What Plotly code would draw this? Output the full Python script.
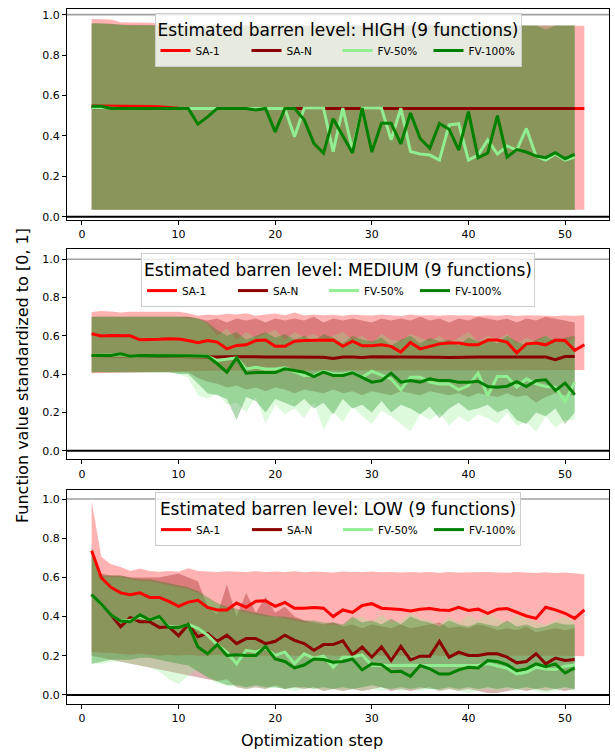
import plotly.graph_objects as go
from plotly.subplots import make_subplots

SERIES = ["SA-1", "SA-N", "FV-50%", "FV-100%"]
LINE_COLORS = {"SA-1": "#ff0000", "SA-N": "#8b0000", "FV-50%": "#90ee90", "FV-100%": "#008000"}
FILL_COLORS = {"SA-1": "rgba(255,0,0,0.3)", "SA-N": "rgba(139,0,0,0.3)",
               "FV-50%": "rgba(144,238,144,0.3)", "FV-100%": "rgba(0,128,0,0.3)"}
LEVELS = ["HIGH", "MEDIUM", "LOW"]
X_TICKS = [0, 10, 20, 30, 40, 50]
Y_TICKS = [0.0, 0.2, 0.4, 0.6, 0.8, 1.0]

STEPS_SA1 = list(range(1, 53))
STEPS_OTHER = list(range(1, 52))

# ---------------- HIGH ----------------
H_SA1 = [0.548, 0.548, 0.547, 0.546, 0.546, 0.545, 0.545, 0.544, 0.540, 0.537,
         0.536, 0.536, 0.536, 0.536, 0.536, 0.536, 0.536, 0.536, 0.536, 0.536,
         0.536, 0.536, 0.536, 0.536, 0.536, 0.536, 0.536, 0.536, 0.536, 0.536,
         0.536, 0.536, 0.536, 0.536, 0.536, 0.536, 0.536, 0.536, 0.536, 0.536,
         0.536, 0.536, 0.536, 0.536, 0.536, 0.536, 0.536, 0.536, 0.536, 0.536,
         0.536, 0.536]
H_SA1_LO = [0.034, 0.034, 0.034, 0.035, 0.035, 0.035, 0.034, 0.034, 0.034, 0.034,
            0.034, 0.034, 0.034, 0.034, 0.034, 0.034, 0.034, 0.034, 0.034, 0.034,
            0.034, 0.034, 0.034, 0.034, 0.034, 0.034, 0.034, 0.034, 0.034, 0.034,
            0.034, 0.034, 0.034, 0.034, 0.034, 0.034, 0.034, 0.034, 0.034, 0.034,
            0.034, 0.034, 0.034, 0.034, 0.034, 0.034, 0.034, 0.034, 0.034, 0.034,
            0.034, 0.034]
H_SA1_HI = [0.978, 0.978, 0.976, 0.962, 0.961, 0.962, 0.960, 0.956, 0.952, 0.950,
            0.948, 0.947, 0.947, 0.946, 0.946, 0.946, 0.946, 0.946, 0.946, 0.946,
            0.946, 0.946, 0.946, 0.946, 0.946, 0.946, 0.946, 0.946, 0.946, 0.946,
            0.946, 0.946, 0.946, 0.946, 0.946, 0.946, 0.946, 0.946, 0.946, 0.946,
            0.946, 0.946, 0.946, 0.946, 0.946, 0.946, 0.946, 0.946, 0.946, 0.946,
            0.945, 0.945]
H_SAN = [0.540, 0.540, 0.537, 0.536, 0.536, 0.536, 0.536, 0.536, 0.536, 0.536,
         0.536, 0.536, 0.536, 0.536, 0.536, 0.536, 0.536, 0.536, 0.536, 0.536,
         0.536, 0.536, 0.536, 0.536, 0.536, 0.536, 0.536, 0.536, 0.536, 0.536,
         0.536, 0.536, 0.536, 0.536, 0.536, 0.536, 0.536, 0.536, 0.536, 0.536,
         0.536, 0.536, 0.536, 0.536, 0.536, 0.536, 0.536, 0.536, 0.536, 0.536,
         0.536]
H_SAN_LO = [0.034, 0.034, 0.034, 0.034, 0.034, 0.034, 0.034, 0.034, 0.034, 0.034,
            0.034, 0.034, 0.034, 0.034, 0.034, 0.034, 0.034, 0.034, 0.034, 0.034,
            0.034, 0.034, 0.034, 0.034, 0.034, 0.034, 0.034, 0.034, 0.034, 0.034,
            0.034, 0.034, 0.034, 0.034, 0.034, 0.034, 0.034, 0.034, 0.034, 0.034,
            0.034, 0.034, 0.034, 0.034, 0.034, 0.034, 0.034, 0.034, 0.034, 0.034,
            0.034]
H_SAN_HI = [0.958, 0.958, 0.955, 0.950, 0.950, 0.949, 0.948, 0.947, 0.947, 0.946,
            0.946, 0.946, 0.946, 0.946, 0.946, 0.946, 0.946, 0.946, 0.946, 0.946,
            0.946, 0.946, 0.946, 0.946, 0.946, 0.946, 0.946, 0.946, 0.946, 0.946,
            0.946, 0.946, 0.946, 0.946, 0.946, 0.946, 0.946, 0.946, 0.946, 0.946,
            0.946, 0.946, 0.946, 0.946, 0.946, 0.946, 0.946, 0.946, 0.946, 0.946,
            0.946]
H_FV50 = [0.540, 0.540, 0.537, 0.536, 0.536, 0.536, 0.536, 0.536, 0.536, 0.536,
          0.536, 0.536, 0.536, 0.536, 0.536, 0.536, 0.536, 0.536, 0.536, 0.536,
          0.536, 0.396, 0.537, 0.537, 0.537, 0.322, 0.537, 0.330, 0.537, 0.537,
          0.537, 0.380, 0.537, 0.322, 0.310, 0.305, 0.280, 0.454, 0.460, 0.280,
          0.305, 0.380, 0.310, 0.350, 0.330, 0.437, 0.300, 0.280, 0.310, 0.280,
          0.295]
H_FV50_LO = [0.034, 0.034, 0.034, 0.034, 0.034, 0.034, 0.034, 0.034, 0.034, 0.034,
             0.034, 0.034, 0.034, 0.034, 0.034, 0.034, 0.034, 0.034, 0.034, 0.034,
             0.034, 0.034, 0.034, 0.034, 0.034, 0.034, 0.034, 0.034, 0.034, 0.034,
             0.034, 0.034, 0.034, 0.034, 0.034, 0.034, 0.034, 0.034, 0.034, 0.034,
             0.034, 0.034, 0.034, 0.034, 0.034, 0.034, 0.034, 0.034, 0.034, 0.034,
             0.034]
H_FV50_HI = [0.956, 0.956, 0.952, 0.948, 0.947, 0.947, 0.946, 0.946, 0.946, 0.946,
             0.946, 0.946, 0.946, 0.946, 0.946, 0.946, 0.946, 0.946, 0.946, 0.946,
             0.946, 0.946, 0.946, 0.946, 0.946, 0.946, 0.946, 0.946, 0.946, 0.946,
             0.946, 0.946, 0.946, 0.946, 0.946, 0.946, 0.946, 0.946, 0.946, 0.946,
             0.946, 0.946, 0.946, 0.946, 0.946, 0.946, 0.946, 0.946, 0.946, 0.946,
             0.946]
H_FV100 = [0.547, 0.547, 0.536, 0.536, 0.536, 0.536, 0.536, 0.536, 0.536, 0.536,
           0.536, 0.458, 0.494, 0.536, 0.536, 0.536, 0.536, 0.528, 0.536, 0.420,
           0.536, 0.536, 0.480, 0.363, 0.315, 0.485, 0.400, 0.315, 0.538, 0.320,
           0.462, 0.462, 0.360, 0.513, 0.387, 0.338, 0.462, 0.433, 0.330, 0.520,
           0.292, 0.315, 0.500, 0.295, 0.332, 0.320, 0.300, 0.292, 0.317, 0.287,
           0.308]
H_FV100_LO = [0.034, 0.034, 0.034, 0.034, 0.034, 0.034, 0.034, 0.034, 0.034, 0.034,
              0.034, 0.034, 0.034, 0.034, 0.034, 0.034, 0.034, 0.034, 0.034, 0.034,
              0.034, 0.034, 0.034, 0.034, 0.034, 0.034, 0.034, 0.034, 0.034, 0.034,
              0.034, 0.034, 0.034, 0.034, 0.034, 0.034, 0.034, 0.034, 0.034, 0.034,
              0.034, 0.034, 0.034, 0.034, 0.034, 0.034, 0.034, 0.034, 0.034, 0.034,
              0.034]
H_FV100_HI = [0.956, 0.956, 0.952, 0.948, 0.947, 0.947, 0.946, 0.946, 0.946, 0.946,
              0.946, 0.946, 0.946, 0.946, 0.946, 0.946, 0.946, 0.946, 0.946, 0.946,
              0.946, 0.946, 0.946, 0.946, 0.946, 0.946, 0.946, 0.946, 0.946, 0.946,
              0.946, 0.946, 0.946, 0.946, 0.946, 0.946, 0.946, 0.946, 0.946, 0.946,
              0.946, 0.946, 0.946, 0.946, 0.946, 0.946, 0.946, 0.925, 0.946, 0.946,
              0.946]

# ---------------- MEDIUM ----------------
M_SA1 = [0.611, 0.599, 0.602, 0.602, 0.600, 0.579, 0.579, 0.582, 0.585, 0.583,
         0.576, 0.564, 0.576, 0.567, 0.532, 0.550, 0.553, 0.576, 0.578, 0.545,
         0.545, 0.572, 0.576, 0.576, 0.576, 0.578, 0.545, 0.572, 0.548, 0.548,
         0.553, 0.545, 0.515, 0.565, 0.532, 0.545, 0.558, 0.562, 0.562, 0.553,
         0.553, 0.578, 0.578, 0.567, 0.511, 0.558, 0.562, 0.553, 0.578, 0.576,
         0.524, 0.553]
M_SA1_LO = [0.405, 0.405, 0.407, 0.408, 0.409, 0.410, 0.411, 0.412, 0.413, 0.414,
            0.415, 0.416, 0.417, 0.418, 0.418, 0.419, 0.419, 0.420, 0.420, 0.420,
            0.420, 0.420, 0.420, 0.421, 0.421, 0.421, 0.421, 0.421, 0.421, 0.421,
            0.421, 0.421, 0.421, 0.421, 0.421, 0.421, 0.421, 0.421, 0.421, 0.421,
            0.421, 0.421, 0.421, 0.421, 0.421, 0.421, 0.421, 0.421, 0.421, 0.421,
            0.421, 0.421]
M_SA1_HI = [0.725, 0.730, 0.727, 0.722, 0.726, 0.726, 0.724, 0.725, 0.723, 0.726,
            0.718, 0.705, 0.712, 0.708, 0.715, 0.712, 0.718, 0.705, 0.712, 0.716,
            0.708, 0.722, 0.706, 0.712, 0.708, 0.710, 0.705, 0.712, 0.708, 0.706,
            0.712, 0.708, 0.703, 0.712, 0.706, 0.708, 0.705, 0.709, 0.706, 0.708,
            0.704, 0.707, 0.705, 0.709, 0.704, 0.708, 0.706, 0.707, 0.704, 0.706,
            0.705, 0.708]
M_SAN = [0.497, 0.497, 0.497, 0.497, 0.495, 0.495, 0.494, 0.493, 0.492, 0.492,
         0.492, 0.491, 0.490, 0.490, 0.491, 0.490, 0.490, 0.489, 0.490, 0.490,
         0.490, 0.489, 0.490, 0.490, 0.488, 0.482, 0.489, 0.490, 0.487, 0.491,
         0.491, 0.490, 0.490, 0.489, 0.490, 0.491, 0.488, 0.487, 0.489, 0.488,
         0.490, 0.489, 0.490, 0.488, 0.490, 0.489, 0.490, 0.489, 0.475, 0.492,
         0.492]
M_SAN_LO = [0.410, 0.410, 0.410, 0.410, 0.410, 0.410, 0.410, 0.410, 0.410, 0.410,
            0.410, 0.380, 0.360, 0.350, 0.330, 0.340, 0.320, 0.330, 0.310, 0.330,
            0.320, 0.300, 0.320, 0.310, 0.300, 0.320, 0.300, 0.310, 0.290, 0.310,
            0.300, 0.290, 0.310, 0.300, 0.290, 0.310, 0.300, 0.290, 0.300, 0.280,
            0.300, 0.290, 0.280, 0.300, 0.280, 0.290, 0.250, 0.280, 0.300, 0.290,
            0.290]
M_SAN_HI = [0.700, 0.700, 0.700, 0.700, 0.700, 0.700, 0.700, 0.700, 0.700, 0.700,
            0.700, 0.690, 0.680, 0.690, 0.670, 0.690, 0.680, 0.690, 0.670, 0.690,
            0.680, 0.690, 0.680, 0.700, 0.670, 0.690, 0.680, 0.690, 0.680, 0.670,
            0.690, 0.680, 0.690, 0.680, 0.700, 0.680, 0.690, 0.670, 0.690, 0.680,
            0.700, 0.690, 0.680, 0.690, 0.670, 0.690, 0.680, 0.700, 0.690, 0.680,
            0.670]
M_FV50 = [0.497, 0.497, 0.497, 0.500, 0.495, 0.497, 0.496, 0.496, 0.496, 0.496,
          0.496, 0.495, 0.493, 0.471, 0.480, 0.485, 0.427, 0.436, 0.427, 0.427,
          0.433, 0.415, 0.393, 0.393, 0.415, 0.401, 0.401, 0.410, 0.384, 0.415,
          0.393, 0.375, 0.318, 0.384, 0.384, 0.358, 0.349, 0.349, 0.318, 0.340,
          0.405, 0.288, 0.387, 0.387, 0.332, 0.375, 0.349, 0.335, 0.332, 0.257,
          0.358]
M_FV50_LO = [0.410, 0.410, 0.410, 0.410, 0.410, 0.410, 0.410, 0.410, 0.410, 0.400,
             0.380, 0.290, 0.270, 0.300, 0.240, 0.250, 0.200, 0.280, 0.140, 0.240,
             0.190, 0.220, 0.170, 0.250, 0.110, 0.200, 0.150, 0.230, 0.180, 0.140,
             0.210, 0.180, 0.140, 0.100, 0.190, 0.160, 0.200, 0.130, 0.180, 0.150,
             0.190, 0.170, 0.140, 0.200, 0.130, 0.150, 0.100, 0.180, 0.120, 0.160,
             0.160]
M_FV50_HI = [0.700, 0.700, 0.700, 0.700, 0.700, 0.700, 0.700, 0.700, 0.700, 0.700,
             0.690, 0.690, 0.660, 0.600, 0.640, 0.580, 0.620, 0.590, 0.610, 0.630,
             0.580, 0.620, 0.590, 0.610, 0.570, 0.600, 0.620, 0.580, 0.600, 0.560,
             0.610, 0.580, 0.570, 0.610, 0.590, 0.570, 0.600, 0.560, 0.590, 0.620,
             0.570, 0.600, 0.580, 0.610, 0.560, 0.590, 0.570, 0.600, 0.580, 0.560,
             0.590]
M_FV100 = [0.497, 0.497, 0.497, 0.506, 0.493, 0.497, 0.496, 0.496, 0.496, 0.496,
           0.496, 0.495, 0.493, 0.454, 0.410, 0.485, 0.405, 0.408, 0.408, 0.408,
           0.428, 0.419, 0.410, 0.387, 0.410, 0.393, 0.393, 0.407, 0.384, 0.358,
           0.366, 0.405, 0.358, 0.366, 0.358, 0.375, 0.366, 0.366, 0.358, 0.358,
           0.363, 0.335, 0.332, 0.337, 0.361, 0.335, 0.366, 0.370, 0.314, 0.353,
           0.293]
M_FV100_LO = [0.410, 0.410, 0.410, 0.410, 0.410, 0.410, 0.410, 0.410, 0.410, 0.400,
              0.400, 0.350, 0.300, 0.290, 0.270, 0.160, 0.280, 0.260, 0.200, 0.270,
              0.250, 0.230, 0.270, 0.220, 0.250, 0.190, 0.270, 0.220, 0.240, 0.200,
              0.260, 0.200, 0.240, 0.220, 0.190, 0.230, 0.170, 0.220, 0.250, 0.210,
              0.220, 0.240, 0.200, 0.220, 0.160, 0.140, 0.200, 0.180, 0.220, 0.140,
              0.200]
M_FV100_HI = [0.700, 0.700, 0.700, 0.700, 0.700, 0.700, 0.700, 0.700, 0.700, 0.700,
              0.700, 0.690, 0.670, 0.630, 0.600, 0.620, 0.580, 0.600, 0.620, 0.590,
              0.610, 0.580, 0.600, 0.570, 0.610, 0.590, 0.560, 0.600, 0.580, 0.570,
              0.590, 0.550, 0.580, 0.600, 0.560, 0.590, 0.570, 0.580, 0.550, 0.590,
              0.570, 0.580, 0.560, 0.600, 0.570, 0.550, 0.580, 0.600, 0.570, 0.590,
              0.600]

# ---------------- LOW ----------------
L_SA1 = [0.736, 0.598, 0.550, 0.521, 0.512, 0.521, 0.498, 0.498, 0.478, 0.452,
         0.474, 0.483, 0.447, 0.434, 0.434, 0.469, 0.447, 0.478, 0.481, 0.452,
         0.472, 0.443, 0.443, 0.447, 0.443, 0.400, 0.434, 0.421, 0.457, 0.466,
         0.443, 0.440, 0.436, 0.429, 0.438, 0.441, 0.434, 0.431, 0.447, 0.431,
         0.438, 0.417, 0.438, 0.441, 0.421, 0.403, 0.391, 0.448, 0.434, 0.417,
         0.391, 0.434]
L_SA1_LO = [0.220, 0.215, 0.215, 0.210, 0.205, 0.210, 0.205, 0.200, 0.205, 0.200,
            0.205, 0.200, 0.200, 0.205, 0.200, 0.200, 0.205, 0.200, 0.200, 0.200,
            0.205, 0.200, 0.200, 0.200, 0.205, 0.200, 0.200, 0.200, 0.200, 0.205,
            0.200, 0.200, 0.200, 0.200, 0.200, 0.205, 0.200, 0.200, 0.200, 0.200,
            0.200, 0.200, 0.200, 0.200, 0.200, 0.200, 0.200, 0.200, 0.200, 0.200,
            0.200, 0.198]
L_SA1_HI = [0.990, 0.705, 0.667, 0.653, 0.633, 0.645, 0.633, 0.629, 0.633, 0.629,
            0.647, 0.633, 0.630, 0.628, 0.632, 0.630, 0.627, 0.632, 0.628, 0.630,
            0.627, 0.632, 0.626, 0.630, 0.628, 0.625, 0.630, 0.627, 0.628, 0.630,
            0.626, 0.628, 0.625, 0.627, 0.625, 0.628, 0.624, 0.627, 0.625, 0.626,
            0.624, 0.627, 0.625, 0.624, 0.627, 0.624, 0.623, 0.626, 0.623, 0.625,
            0.622, 0.616]
L_SAN = [0.512, 0.460, 0.409, 0.348, 0.395, 0.374, 0.374, 0.345, 0.348, 0.302,
         0.360, 0.297, 0.314, 0.274, 0.305, 0.262, 0.288, 0.288, 0.262, 0.274,
         0.305, 0.279, 0.262, 0.228, 0.257, 0.257, 0.276, 0.205, 0.245, 0.193,
         0.245, 0.176, 0.248, 0.179, 0.198, 0.198, 0.274, 0.193, 0.219, 0.202,
         0.202, 0.210, 0.210, 0.193, 0.164, 0.171, 0.210, 0.159, 0.188, 0.176,
         0.181]
L_SAN_LO = [0.200, 0.190, 0.180, 0.170, 0.160, 0.150, 0.140, 0.130, 0.120, 0.110,
            0.100, 0.090, 0.080, 0.070, 0.080, 0.040, 0.030, 0.040, 0.030, 0.050,
            0.030, 0.040, 0.030, 0.040, 0.020, 0.030, 0.020, 0.030, 0.020, 0.030,
            0.040, 0.020, 0.030, 0.020, 0.030, 0.040, 0.020, 0.030, 0.020, 0.030,
            0.020, 0.010, 0.010, 0.020, 0.030, 0.020, 0.030, 0.020, 0.030, 0.020,
            0.030]
L_SAN_HI = [0.750, 0.620, 0.610, 0.610, 0.600, 0.600, 0.600, 0.600, 0.610, 0.620,
            0.600, 0.580, 0.450, 0.410, 0.565, 0.400, 0.520, 0.420, 0.500, 0.420,
            0.450, 0.400, 0.380, 0.370, 0.360, 0.370, 0.350, 0.360, 0.340, 0.360,
            0.350, 0.340, 0.360, 0.340, 0.350, 0.360, 0.370, 0.340, 0.350, 0.340,
            0.360, 0.350, 0.330, 0.340, 0.330, 0.350, 0.320, 0.330, 0.340, 0.330,
            0.340]
L_FV50 = [0.512, 0.460, 0.410, 0.378, 0.380, 0.400, 0.385, 0.395, 0.350, 0.345,
          0.360, 0.340, 0.305, 0.257, 0.219, 0.159, 0.228, 0.219, 0.240, 0.202,
          0.219, 0.160, 0.210, 0.188, 0.198, 0.141, 0.193, 0.193, 0.205, 0.150,
          0.152, 0.150, 0.152, 0.152, 0.150, 0.150, 0.150, 0.150, 0.150, 0.150,
          0.150, 0.160, 0.148, 0.136, 0.107, 0.116, 0.141, 0.133, 0.130, 0.147,
          0.153]
L_FV50_LO = [0.160, 0.160, 0.170, 0.170, 0.160, 0.150, 0.140, 0.120, 0.080, 0.055,
             0.100, 0.130, 0.090, 0.060, 0.050, 0.040, 0.030, 0.040, 0.030, 0.040,
             0.030, 0.020, 0.030, 0.040, 0.020, 0.030, 0.020, 0.030, 0.020, 0.030,
             0.020, 0.030, 0.020, 0.030, 0.020, 0.030, 0.020, 0.030, 0.020, 0.010,
             0.020, 0.030, 0.020, 0.030, 0.020, 0.030, 0.020, 0.010, 0.020, 0.030,
             0.020]
L_FV50_HI = [0.750, 0.600, 0.600, 0.600, 0.590, 0.580, 0.580, 0.570, 0.560, 0.550,
             0.540, 0.520, 0.490, 0.460, 0.440, 0.430, 0.420, 0.410, 0.400, 0.400,
             0.390, 0.380, 0.370, 0.370, 0.360, 0.360, 0.350, 0.390, 0.400, 0.370,
             0.410, 0.370, 0.380, 0.420, 0.390, 0.380, 0.360, 0.400, 0.370, 0.410,
             0.380, 0.420, 0.390, 0.370, 0.410, 0.390, 0.370, 0.360, 0.380, 0.400,
             0.370]
L_FV100 = [0.512, 0.464, 0.409, 0.378, 0.374, 0.409, 0.383, 0.400, 0.345, 0.345,
           0.360, 0.245, 0.210, 0.257, 0.202, 0.205, 0.202, 0.202, 0.248, 0.184,
           0.171, 0.138, 0.153, 0.184, 0.181, 0.167, 0.171, 0.184, 0.128, 0.159,
           0.155, 0.119, 0.121, 0.095, 0.150, 0.133, 0.107, 0.107, 0.128, 0.141,
           0.138, 0.176, 0.171, 0.155, 0.124, 0.133, 0.159, 0.145, 0.159, 0.112,
           0.138]
L_FV100_LO = [0.160, 0.170, 0.180, 0.180, 0.180, 0.190, 0.190, 0.180, 0.170, 0.160,
              0.150, 0.120, 0.090, 0.070, 0.050, 0.050, 0.040, 0.050, 0.040, 0.040,
              0.030, 0.040, 0.040, 0.030, 0.040, 0.030, 0.040, 0.030, 0.040, 0.050,
              0.040, 0.030, 0.040, 0.030, 0.040, 0.030, 0.030, 0.040, 0.030, 0.040,
              0.030, 0.040, 0.030, 0.040, 0.030, 0.040, 0.030, 0.040, 0.030, 0.040,
              0.030]
L_FV100_HI = [0.750, 0.610, 0.610, 0.610, 0.600, 0.590, 0.590, 0.580, 0.570, 0.560,
              0.550, 0.530, 0.500, 0.470, 0.450, 0.440, 0.430, 0.420, 0.410, 0.400,
              0.400, 0.390, 0.380, 0.380, 0.370, 0.370, 0.360, 0.400, 0.370, 0.380,
              0.360, 0.390, 0.360, 0.400, 0.380, 0.370, 0.350, 0.380, 0.360, 0.350,
              0.370, 0.360, 0.350, 0.380, 0.350, 0.360, 0.340, 0.350, 0.370, 0.360,
              0.360]

PANELS = [
    {"SA-1": (H_SA1, H_SA1_LO, H_SA1_HI), "SA-N": (H_SAN, H_SAN_LO, H_SAN_HI),
     "FV-50%": (H_FV50, H_FV50_LO, H_FV50_HI), "FV-100%": (H_FV100, H_FV100_LO, H_FV100_HI)},
    {"SA-1": (M_SA1, M_SA1_LO, M_SA1_HI), "SA-N": (M_SAN, M_SAN_LO, M_SAN_HI),
     "FV-50%": (M_FV50, M_FV50_LO, M_FV50_HI), "FV-100%": (M_FV100, M_FV100_LO, M_FV100_HI)},
    {"SA-1": (L_SA1, L_SA1_LO, L_SA1_HI), "SA-N": (L_SAN, L_SAN_LO, L_SAN_HI),
     "FV-50%": (L_FV50, L_FV50_LO, L_FV50_HI), "FV-100%": (L_FV100, L_FV100_LO, L_FV100_HI)},
]

FONT = "DejaVu Sans, Verdana, sans-serif"
W, H = 615, 752
M_L, M_R, M_T, M_B = 67, 6, 9, 48
PH = H - M_T - M_B
PW = W - M_L - M_R
DOMAINS = [(9, 219.5), (249.3, 459.3), (490, 704)]  # pixel rows from top
YRANGES = [(-0.0139, 1.028), (-0.045, 1.052), (-0.046, 1.046)]
LEGEND_TOP_PX = [13, 253, 492]


def px_to_paper(py):
    return (H - M_B - py) / PH


fig = make_subplots(rows=3, cols=1)

for i, panel in enumerate(PANELS):
    row = i + 1
    leg = "legend" if i == 0 else f"legend{i + 1}"
    for s in SERIES:
        mean, lo, hi = panel[s]
        xs = STEPS_SA1 if s == "SA-1" else STEPS_OTHER
        fig.add_trace(go.Scatter(x=xs + xs[::-1], y=hi + lo[::-1], fill="toself",
                                 fillcolor=FILL_COLORS[s], line=dict(width=0),
                                 mode="lines", hoverinfo="skip", showlegend=False),
                      row=row, col=1)
    for s in SERIES:
        mean, lo, hi = panel[s]
        xs = STEPS_SA1 if s == "SA-1" else STEPS_OTHER
        fig.add_trace(go.Scatter(x=xs, y=mean, mode="lines", name=s,
                                 line=dict(color=LINE_COLORS[s], width=3),
                                 legend=leg, showlegend=True),
                      row=row, col=1)
    fig.add_hline(y=1.0, line=dict(color="#a0a0a0", width=1.6), row=row, col=1)
    fig.add_hline(y=0.0, line=dict(color="black", width=2), row=row, col=1)

    ax = "" if i == 0 else str(i + 1)
    top, bot = DOMAINS[i]
    fig.layout[f"yaxis{ax}"].update(
        domain=[max(0, px_to_paper(bot)), min(1, px_to_paper(top))],
        range=list(YRANGES[i]), tickvals=Y_TICKS, tickformat=".1f", automargin=False,
        ticks="outside", ticklen=4, tickcolor="black", showgrid=False, zeroline=False,
        showline=True, mirror=True, linecolor="black", linewidth=1,
        tickfont=dict(family=FONT, size=11, color="black"))
    fig.layout[f"xaxis{ax}"].update(
        range=[-1.55, 54.55], tickvals=X_TICKS, ticks="outside", ticklen=4,
        tickcolor="black", showgrid=False, zeroline=False, automargin=False,
        showline=True, mirror=True, linecolor="black", linewidth=1,
        tickfont=dict(family=FONT, size=11, color="black"))
    fig.layout[leg] = dict(
        title=dict(text=f"Estimated barren level: {LEVELS[i]} (9 functions)",
                   side="top center", font=dict(family=FONT, size=17, color="black")),
        orientation="h", x=0.5, xanchor="center", xref="paper",
        y=px_to_paper(LEGEND_TOP_PX[i]), yanchor="top", yref="paper",
        bgcolor="rgba(255,255,255,0.8)", bordercolor="#cccccc", borderwidth=1,
        font=dict(family=FONT, size=10.5, color="black"),
        entrywidth=46, entrywidthmode="pixels", tracegroupgap=0)

fig.add_annotation(text="Function value standardized to [0, 1]", textangle=-90,
                   xref="paper", yref="paper", x=(22 - M_L) / PW,
                   y=px_to_paper(376), xanchor="center", yanchor="middle", showarrow=False,
                   font=dict(family=FONT, size=16, color="black"))
fig.add_annotation(text="Optimization step", xref="paper", yref="paper",
                   x=(312 - M_L) / PW, y=px_to_paper(740), xanchor="center",
                   yanchor="middle", showarrow=False,
                   font=dict(family=FONT, size=16, color="black"))

fig.update_layout(width=W, height=H, margin=dict(l=M_L, r=M_R, t=M_T, b=M_B, autoexpand=False),
                  plot_bgcolor="white", paper_bgcolor="white",
                  font=dict(family=FONT, color="black"))
fig.write_html("out.html", config={"displayModeBar": False},
               post_script="document.body.style.margin='0px';")
